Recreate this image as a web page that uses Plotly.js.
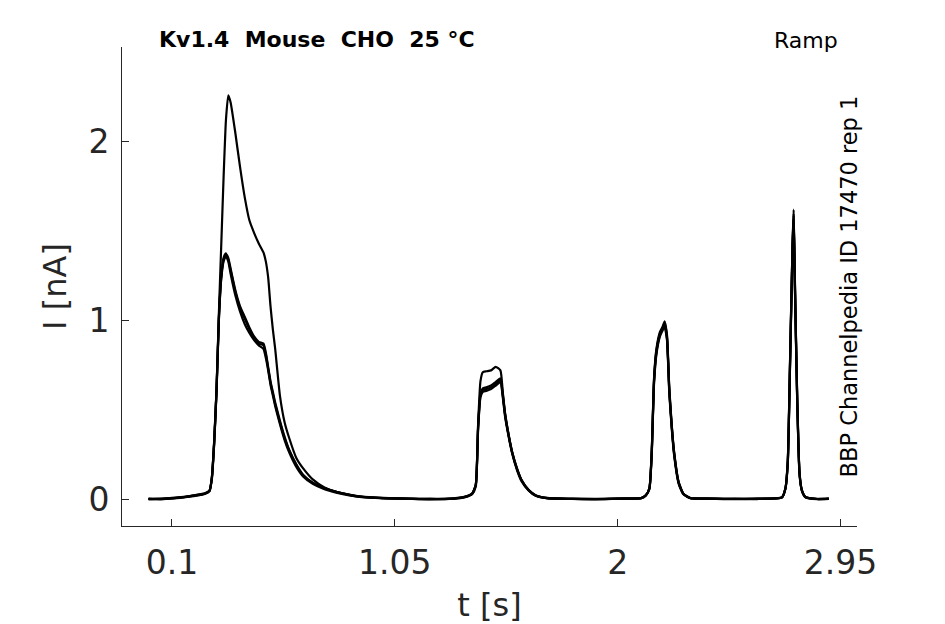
<!DOCTYPE html>
<html>
<head>
<meta charset="utf-8">
<script src="https://cdn.plot.ly/plotly-3.0.1.min.js"></script>
<style>
  body { margin: 0; background: #fff; }
  #chart { width: 945px; height: 624px; }
</style>
</head>
<body>
<div id="chart"></div>
<script>
'use strict';

// sample times [s], shared by every sweep
const t = [0.00, 0.05, 0.10, 0.15, 0.20, 0.24, 0.26,
    0.27, 0.28, 0.29, 0.30, 0.31, 0.32, 0.33, 0.34,
    0.35, 0.37, 0.39, 0.41, 0.43, 0.45, 0.47, 0.49, 0.50, 0.51, 0.52, 0.53, 0.54, 0.56, 0.58, 0.60, 0.63, 0.66, 0.70, 0.75, 0.80, 0.85, 0.90, 1.00,
    1.10, 1.20, 1.30, 1.35, 1.38,
    1.395, 1.405, 1.415, 1.425, 1.44, 1.46, 1.48, 1.50, 1.51, 1.52, 1.535, 1.55, 1.57, 1.59, 1.62, 1.65, 1.70,
    1.80, 1.90, 2.00, 2.10, 2.12,
    2.135, 2.145, 2.155, 2.165, 2.18, 2.19, 2.20, 2.21, 2.22, 2.23, 2.24, 2.26, 2.28, 2.31,
    2.40, 2.50, 2.60, 2.70, 2.715,
    2.725, 2.735, 2.745, 2.75, 2.755, 2.765, 2.775, 2.785, 2.80,
    2.85, 2.90];

// current [nA] of each sweep
const sweep1 = [0.000, -0.002, 0.004, 0.010, 0.020, 0.030, 0.045,
    0.12, 0.33, 0.62, 1.04, 1.42, 1.80, 2.12, 2.26,
    2.22, 2.05, 1.86, 1.69, 1.56, 1.49, 1.43, 1.38, 1.33, 1.24, 1.08, 0.95, 0.84, 0.58, 0.43, 0.34, 0.23, 0.17, 0.11, 0.065, 0.040, 0.025, 0.013, 0.005,
    0.002, -0.002, 0.003, 0.012, 0.030,
    0.08, 0.42, 0.66, 0.71, 0.715, 0.72, 0.74, 0.72, 0.60, 0.48, 0.36, 0.265, 0.175, 0.107, 0.05, 0.02, 0.005,
    0.001, -0.002, 0.002, 0.004, 0.020,
    0.06, 0.27, 0.68, 0.84, 0.935, 0.96, 0.995, 0.92, 0.62, 0.42, 0.27, 0.095, 0.03, 0.005,
    0.002, -0.001, 0.002, 0.008, 0.060,
    0.22, 0.80, 1.42, 1.62, 1.25, 0.58, 0.15, 0.05, 0.012,
    0.000, 0.002];

const sweep2 = [0.002, 0.000, 0.005, 0.012, 0.022, 0.032, 0.048,
    0.11, 0.31, 0.60, 1.00, 1.24, 1.35, 1.375, 1.34,
    1.28, 1.16, 1.07, 1.01, 0.95, 0.90, 0.87, 0.86, 0.81, 0.73, 0.65, 0.59, 0.53, 0.43, 0.34, 0.27, 0.19, 0.13, 0.09, 0.06, 0.040, 0.026, 0.015, 0.006,
    0.003, 0.000, 0.004, 0.014, 0.032,
    0.08, 0.40, 0.58, 0.61, 0.615, 0.625, 0.645, 0.665, 0.58, 0.47, 0.355, 0.26, 0.17, 0.105, 0.05, 0.02, 0.006,
    0.002, 0.000, 0.003, 0.006, 0.022,
    0.06, 0.26, 0.66, 0.82, 0.92, 0.95, 0.975, 0.90, 0.60, 0.41, 0.26, 0.09, 0.028, 0.006,
    0.003, 0.000, 0.002, 0.010, 0.062,
    0.21, 0.78, 1.40, 1.59, 1.22, 0.56, 0.14, 0.048, 0.012,
    0.001, 0.001];

const sweep3 = [-0.002, 0.002, 0.003, 0.009, 0.018, 0.028, 0.044,
    0.12, 0.32, 0.61, 1.01, 1.23, 1.33, 1.36, 1.33,
    1.26, 1.14, 1.05, 0.98, 0.93, 0.89, 0.86, 0.84, 0.79, 0.72, 0.64, 0.58, 0.52, 0.42, 0.33, 0.26, 0.18, 0.125, 0.085, 0.055, 0.036, 0.022, 0.012, 0.004,
    0.001, 0.002, 0.001, 0.010, 0.028,
    0.07, 0.39, 0.57, 0.60, 0.605, 0.615, 0.635, 0.655, 0.57, 0.46, 0.35, 0.255, 0.165, 0.10, 0.048, 0.018, 0.004,
    0.000, 0.001, 0.001, 0.005, 0.020,
    0.055, 0.25, 0.65, 0.81, 0.91, 0.94, 0.965, 0.89, 0.59, 0.40, 0.25, 0.085, 0.026, 0.004,
    0.001, 0.002, 0.000, 0.009, 0.058,
    0.20, 0.77, 1.38, 1.57, 1.20, 0.55, 0.14, 0.046, 0.010,
    -0.001, 0.001];

const sweep4 = [0.001, 0.001, 0.006, 0.011, 0.021, 0.031, 0.046,
    0.12, 0.32, 0.61, 1.02, 1.25, 1.34, 1.37, 1.35,
    1.29, 1.17, 1.08, 1.02, 0.96, 0.91, 0.88, 0.87, 0.82, 0.74, 0.66, 0.60, 0.54, 0.44, 0.35, 0.275, 0.195, 0.135, 0.092, 0.062, 0.041, 0.025, 0.014, 0.005,
    0.002, -0.001, 0.002, 0.013, 0.031,
    0.08, 0.41, 0.59, 0.62, 0.625, 0.635, 0.655, 0.675, 0.59, 0.475, 0.36, 0.262, 0.172, 0.106, 0.052, 0.021, 0.005,
    0.001, -0.001, 0.002, 0.005, 0.021,
    0.058, 0.26, 0.67, 0.83, 0.925, 0.955, 0.985, 0.91, 0.61, 0.415, 0.265, 0.092, 0.029, 0.005,
    0.002, 0.001, 0.001, 0.009, 0.060,
    0.21, 0.79, 1.41, 1.60, 1.23, 0.57, 0.145, 0.049, 0.011,
    0.000, 0.002];

const xTickVals = [0.1, 1.05, 2, 2.95];
const xTickText = ['0.1', '1.05', '2', '2.95'];
const yTickVals = [0, 1, 2];
const yTickText = ['0', '1', '2'];

const axisColor = '#262626';
const font = 'DejaVu Sans, sans-serif';

function makeTrace(values) {
    return {
        x: t,
        y: values,
        type: 'scatter',
        mode: 'lines',
        line: {color: '#000000', width: 2.2, shape: 'spline', smoothing: 0.5},
        hoverinfo: 'skip',
        showlegend: false
    };
}

const data = [sweep1, sweep2, sweep3, sweep4].map(makeTrace);

const layout = {
    width: 945,
    height: 624,
    margin: {l: 122, r: 88, t: 47, b: 98},
    paper_bgcolor: '#ffffff',
    plot_bgcolor: '#ffffff',
    font: {family: font, color: axisColor},
    xaxis: {
        range: [-0.113, 3.02],
        tickvals: xTickVals,
        ticktext: xTickText,
        ticks: 'inside',
        ticklen: 7,
        tickcolor: axisColor,
        showline: true,
        linecolor: axisColor,
        linewidth: 1,
        showgrid: false,
        zeroline: false,
        ticklabelstandoff: 7,
        tickfont: {size: 33, color: axisColor},
        title: {text: 't [s]', font: {size: 32, color: axisColor}, standoff: 16}
    },
    yaxis: {
        range: [-0.151, 2.53],
        tickvals: yTickVals,
        ticktext: yTickText,
        ticks: 'inside',
        ticklen: 7,
        tickcolor: axisColor,
        showline: true,
        linecolor: axisColor,
        linewidth: 1,
        showgrid: false,
        zeroline: false,
        ticklabelstandoff: 5,
        tickfont: {size: 33, color: axisColor},
        title: {text: 'I [nA]', font: {size: 32, color: axisColor}, standoff: 12}
    },
    annotations: [
        {
            text: '<b>Kv1.4  Mouse  CHO  25 °C</b>',
            xref: 'paper', yref: 'paper',
            x: 0.047, y: 1.0167,
            xanchor: 'left', yanchor: 'middle',
            showarrow: false,
            font: {size: 22, color: '#000000'}
        },
        {
            text: 'Ramp',
            xref: 'paper', yref: 'paper',
            x: 0.977, y: 1.0146,
            xanchor: 'right', yanchor: 'middle',
            showarrow: false,
            font: {size: 22, color: '#000000'}
        },
        {
            text: 'BBP Channelpedia ID 17470 rep 1',
            xref: 'paper', yref: 'paper',
            x: 0.989, y: 0.5,
            xanchor: 'center', yanchor: 'middle',
            textangle: -90,
            showarrow: false,
            font: {size: 22.5, color: '#000000'}
        }
    ]
};

Plotly.newPlot('chart', data, layout, {staticPlot: true, displayModeBar: false});
</script>
</body>
</html>
